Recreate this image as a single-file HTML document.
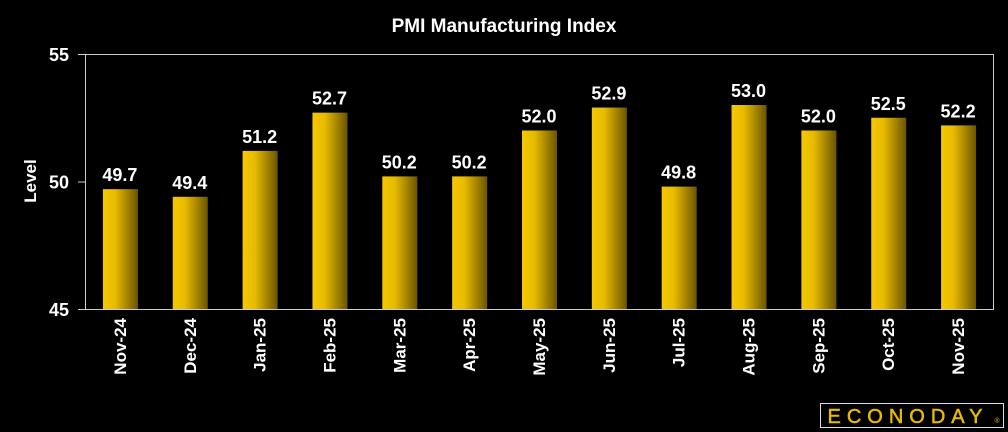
<!DOCTYPE html>
<html><head><meta charset="utf-8">
<style>
html,body{margin:0;padding:0;background:#000;}
svg{display:block;font-family:"Liberation Sans",sans-serif;}
</style></head>
<body>
<svg width="1008" height="432" viewBox="0 0 1008 432">
<defs>
<linearGradient id="bg" x1="0" x2="1" y1="0" y2="0">
<stop offset="0" stop-color="#f5c800"/>
<stop offset="0.35" stop-color="#e8bb00"/>
<stop offset="1" stop-color="#6a5500"/>
</linearGradient>
</defs>
<text x="504" y="32" fill="#fff" font-size="19" font-weight="bold" text-anchor="middle">PMI Manufacturing Index</text>
<text transform="translate(36,181) rotate(-90)" fill="#fff" font-size="17" font-weight="bold" text-anchor="middle">Level</text>
<g id="axes"></g>
<g id="bars"></g>
<g>
<rect x="820.5" y="403.5" width="183" height="24" fill="#000" stroke="#ddd" stroke-width="1"/>
<text x="908" y="423" fill="#e8bb00" font-size="20" letter-spacing="6" text-anchor="middle" stroke="#e8bb00" stroke-width="0.5">ECONODAY</text>
<text x="997" y="423" fill="#e8bb00" font-size="7" text-anchor="middle">®</text>
</g>
</svg>
<script>
const categories=["Nov-24","Dec-24","Jan-25","Feb-25","Mar-25","Apr-25","May-25","Jun-25","Jul-25","Aug-25","Sep-25","Oct-25","Nov-25"];
const values=[49.7,49.4,51.2,52.7,50.2,50.2,52.0,52.9,49.8,53.0,52.0,52.5,52.2];
const yTicks=[45,50,55];
const NS="http://www.w3.org/2000/svg";
const L=85,R=993,T=54,B=309,yMin=45,yMax=55;
const y=v=>B-(v-yMin)/(yMax-yMin)*(B-T);
const step=(R-L)/categories.length;
const xc=i=>L+step*(i+0.5);
function mk(tag,attrs,parent){const e=document.createElementNS(NS,tag);for(const k in attrs)e.setAttribute(k,attrs[k]);parent.appendChild(e);return e;}
const ax=document.getElementById('axes'),bg=document.getElementById('bars');
const frame=mk('rect',{x:L+0.5,y:T+0.5,width:R-L,height:B-T,fill:'none',stroke:'#ccc','stroke-width':1},ax);


yTicks.forEach(t=>{
  const ln=mk('line',{x1:L-7,x2:L,y1:y(t)+0.5,y2:y(t)+0.5,stroke:'#ccc'},ax);
  
  
  const tx=mk('text',{x:L-16,y:y(t)+7,fill:'#fff','font-size':18,'font-weight':'bold','text-anchor':'end'},ax);
  tx.textContent=t;
  
  
});
categories.forEach((c,i)=>{
  const w=35,x=xc(i)-w/2+0.5;
  const r=mk('rect',{x:x,y:y(values[i]),width:w,height:B-y(values[i]),fill:'url(#bg)'},bg);
  
  
  const vl=mk('text',{x:xc(i),y:y(values[i])-8,fill:'#fff','font-size':18,'font-weight':'bold','text-anchor':'middle'},bg);
  vl.textContent=values[i].toFixed(1);
  
  
  const xl=mk('text',{transform:`translate(${xc(i)+6},318) rotate(-90)`,fill:'#fff','font-size':17,'font-weight':'bold','text-anchor':'end'},bg);
  xl.textContent=c;
  
  
});
</script>
</body></html>
